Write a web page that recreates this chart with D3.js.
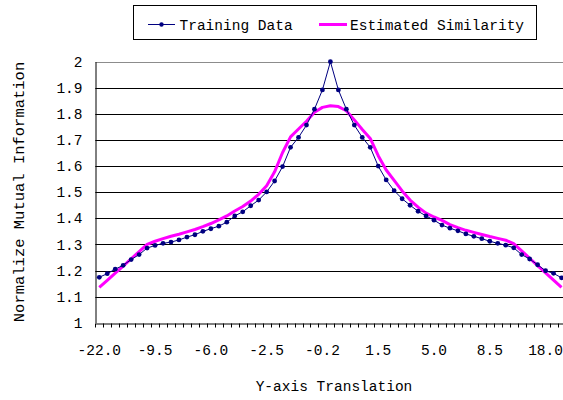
<!DOCTYPE html>
<html>
<head>
<meta charset="utf-8">
<script src="https://cdn.jsdelivr.net/npm/d3@7"></script>
<style>
    body { margin: 0; background: #fff; }
    svg text { font-family: "Liberation Mono", "Courier New", Courier, "Nimbus Mono PS", "DejaVu Sans Mono", monospace; fill: #000; }
</style>
</head>
<body>
<div id="chart"></div>
<script>

// translation steps (category axis, only every 7th is labelled)
var translations = [-22.0, -20.0, -18.0, -16.0, -14.0, -12.0, -10.0,
    -9.5, -9.0, -8.5, -8.0, -7.5, -7.0, -6.5, -6.0, -5.5, -5.0, -4.5, -4.0, -3.5, -3.0, -2.5,
    -2.0, -1.5, -1.0, -0.8, -0.6, -0.4, -0.2, 0.0, 0.2, 0.4, 0.6, 0.8, 1.0, 1.5, 2.0,
    2.5, 3.0, 3.5, 4.0, 4.5, 5.0, 5.5, 6.0, 6.5, 7.0, 7.5, 8.0, 8.5, 9.0, 9.5,
    10.0, 12.0, 14.0, 16.0, 18.0, 20.0, 22.0];

var trainingData = [1.174, 1.188, 1.205, 1.220, 1.242, 1.261, 1.286, 1.296, 1.304, 1.309,
    1.317, 1.328, 1.337, 1.350, 1.360, 1.370, 1.385, 1.409, 1.425, 1.448, 1.470, 1.501, 1.543,
    1.598, 1.672, 1.710, 1.757, 1.818, 1.892, 2.000, 1.892, 1.818, 1.757, 1.710, 1.672, 1.600,
    1.547, 1.506, 1.475, 1.450, 1.427, 1.409, 1.393, 1.374, 1.362, 1.352, 1.340, 1.331, 1.322,
    1.312, 1.304, 1.297, 1.287, 1.261, 1.244, 1.222, 1.199, 1.189, 1.172];

var estimatedSimilarity = [1.135, 1.162, 1.190, 1.217, 1.245, 1.272, 1.300,
    1.312, 1.322, 1.331, 1.339, 1.348, 1.357, 1.368, 1.380, 1.394, 1.409, 1.428, 1.445, 1.466,
    1.492, 1.525, 1.578,
    1.652, 1.712, 1.742, 1.772, 1.806, 1.825, 1.831, 1.828, 1.812, 1.777, 1.740, 1.706, 1.640,
    1.585, 1.545, 1.505, 1.470, 1.443, 1.420, 1.405, 1.392, 1.376, 1.364, 1.354, 1.346, 1.338,
    1.330, 1.323, 1.316,
    1.303, 1.275, 1.247, 1.219, 1.191, 1.163, 1.135];

var yTicks = [1, 1.1, 1.2, 1.3, 1.4, 1.5, 1.6, 1.7, 1.8, 1.9, 2];

var seriesNames = ["Training Data", "Estimated Similarity"];


var width = 563,
    height = 400;

var plot = {
    left: 95.3,
    right: 565.5,
    top: 61.7,
    bottom: 322.7
};

var svg = d3.select("#chart")
    .append("svg")
    .attr("width", width)
    .attr("height", height);

svg.append("rect")
    .attr("width", width)
    .attr("height", height)
    .attr("fill", "#fff");

var x = d3.scaleBand()
    .domain(d3.range(translations.length))
    .range([plot.left, plot.right]);

var y = d3.scaleLinear()
    .domain([1, 2])
    .range([plot.bottom, plot.top]);

function cx(i) {
    return x(i) + x.bandwidth() / 2;
}

// gridlines
svg.append("g")
    .selectAll("line")
    .data(yTicks.slice(1))
    .enter()
    .append("line")
    .attr("x1", plot.left)
    .attr("x2", width)
    .attr("y1", function (d) { return Math.round(y(d)) + 0.5; })
    .attr("y2", function (d) { return Math.round(y(d)) + 0.5; })
    .attr("stroke", function (d) { return d === 2 ? "#8c8c8c" : "#000"; })
    .attr("stroke-width", 1);

// y axis
var yAxis = svg.append("g")
    .attr("transform", "translate(" + (Math.round(plot.left) + 0.5) + ",0)")
    .call(d3.axisLeft(y)
        .tickValues(yTicks)
        .tickSize(0)
        .tickPadding(13)
        .tickFormat(d3.format("~g")));

yAxis.select(".domain").attr("stroke", "#000");
yAxis.selectAll("text")
    .attr("font-size", "14.5px")
    .attr("font-family", null);

// x axis
var xAxis = svg.append("g")
    .attr("transform", "translate(0," + (Math.round(plot.bottom) + 0.5) + ")")
    .call(d3.axisBottom(x)
        .tickValues(d3.range(0, translations.length, 7))
        .tickSize(0)
        .tickPadding(21)
        .tickFormat(function (i) { return translations[i].toFixed(1); }));

xAxis.select(".domain").attr("stroke", "#000");
xAxis.selectAll("text")
    .attr("font-size", "14.5px")
    .attr("font-family", null);

// tick marks between categories
xAxis.selectAll("line.boundary")
    .data(d3.range(translations.length + 1))
    .enter()
    .append("line")
    .attr("class", "boundary")
    .attr("x1", function (i) { return Math.round(plot.left + i * x.step()) + 0.5; })
    .attr("x2", function (i) { return Math.round(plot.left + i * x.step()) + 0.5; })
    .attr("y1", 0)
    .attr("y2", 4)
    .attr("stroke", "#000");

// estimated similarity
var line = d3.line()
    .x(function (d, i) { return cx(i); })
    .y(function (d) { return y(d); });

svg.append("path")
    .datum(estimatedSimilarity)
    .attr("d", line)
    .attr("fill", "none")
    .attr("stroke", "#ff00ff")
    .attr("stroke-width", 3)
    .attr("stroke-linejoin", "round");

// training data
svg.append("path")
    .datum(trainingData)
    .attr("d", line)
    .attr("fill", "none")
    .attr("stroke", "#000080")
    .attr("stroke-width", 1);

svg.append("g")
    .selectAll("circle")
    .data(trainingData)
    .enter()
    .append("circle")
    .attr("cx", function (d, i) { return cx(i); })
    .attr("cy", function (d) { return y(d); })
    .attr("r", 2.4)
    .attr("fill", "#000080");

// legend
var legend = svg.append("g");

legend.append("rect")
    .attr("x", 133.5)
    .attr("y", 5.5)
    .attr("width", 403)
    .attr("height", 34)
    .attr("fill", "#fff")
    .attr("stroke", "#000");

legend.append("line")
    .attr("x1", 148).attr("x2", 175)
    .attr("y1", 24.5).attr("y2", 24.5)
    .attr("stroke", "#000080");

legend.append("circle")
    .attr("cx", 161.5).attr("cy", 24.5)
    .attr("r", 2.2)
    .attr("fill", "#000080");

legend.append("line")
    .attr("x1", 319).attr("x2", 347)
    .attr("y1", 24.5).attr("y2", 24.5)
    .attr("stroke", "#ff00ff")
    .attr("stroke-width", 3);

legend.selectAll("text")
    .data(seriesNames)
    .enter()
    .append("text")
    .attr("x", function (d, i) { return i === 0 ? 179.5 : 350; })
    .attr("y", 29.5)
    .attr("font-size", "14.5px")
    .text(function (d) { return d; });

// axis titles
svg.append("text")
    .attr("x", 334)
    .attr("y", 391)
    .attr("text-anchor", "middle")
    .attr("font-size", "14.5px")
    .text("Y-axis Translation");

svg.append("text")
    .attr("transform", "translate(24,192) rotate(-90)")
    .attr("text-anchor", "middle")
    .attr("font-size", "15.5px")
    .text("Normalize Mutual Information");

</script>
</body>
</html>
